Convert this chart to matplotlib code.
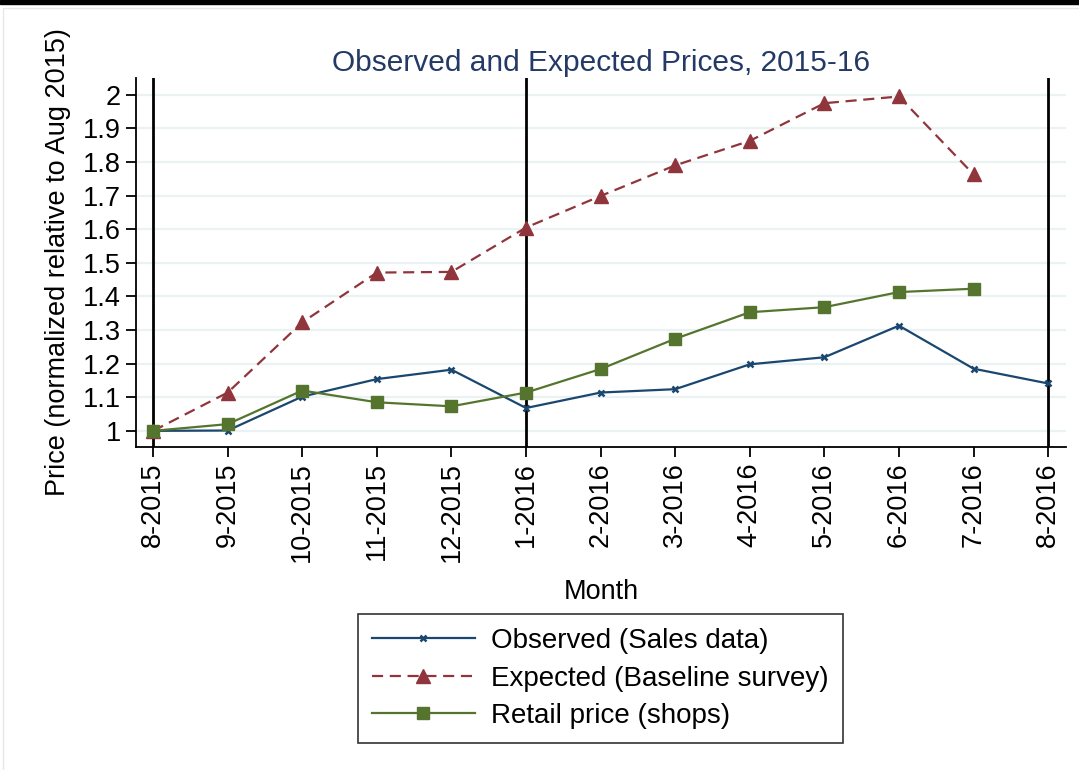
import matplotlib
matplotlib.use("Agg")
import matplotlib.pyplot as plt
from matplotlib.patches import Rectangle

plt.rcParams["font.family"] = ["Liberation Sans", "DejaVu Sans"]

months = ["8-2015", "9-2015", "10-2015", "11-2015", "12-2015", "1-2016", "2-2016",
          "3-2016", "4-2016", "5-2016", "6-2016", "7-2016", "8-2016"]
observed = [1.0, 1.001, 1.102, 1.154, 1.182, 1.068, 1.114, 1.124, 1.198, 1.219, 1.313, 1.185, 1.141]
expected = [1.0, 1.114, 1.323, 1.471, 1.473, 1.605, 1.699, 1.790, 1.863, 1.975, 1.995, 1.763]
retail = [1.0, 1.020, 1.120, 1.085, 1.073, 1.114, 1.184, 1.274, 1.353, 1.368, 1.413, 1.423]
vlines_at = ["8-2015", "1-2016", "8-2016"]
yticks = [1, 1.1, 1.2, 1.3, 1.4, 1.5, 1.6, 1.7, 1.8, 1.9, 2]
ytick_labels = ["1", "1.1", "1.2", "1.3", "1.4", "1.5", "1.6", "1.7", "1.8", "1.9", "2"]

BLUE = "#1a476f"
RED = "#90353b"
GREEN = "#55752f"
GRID = "#eaf2f3"
FS = 19.5

fig = plt.figure(figsize=(10.79, 7.70), dpi=100)
ax = fig.add_axes([0.126, 0.4195, 0.862, 0.4792])

x_obs = list(range(len(observed)))
x_exp = list(range(len(expected)))
x_ret = list(range(len(retail)))

for m in vlines_at:
    ax.axvline(months.index(m), color="black", lw=2, zorder=2)

ax.plot(x_obs, observed, color=BLUE, lw=1.6, marker="x", ms=5, mew=1.8,
        label="Observed (Sales data)", zorder=3)
ax.plot(x_exp, expected, color=RED, lw=1.6, ls=(0, (5, 3)), marker="^", ms=10,
        label="Expected (Baseline survey)", zorder=3)
ax.plot(x_ret, retail, color=GREEN, lw=1.6, marker="s", ms=8,
        label="Retail price (shops)", zorder=3)

ax.set_xlim(-0.23, 12.24)
ax.set_ylim(0.952, 2.05)
ax.set_xticks(range(len(months)))
ax.set_xticklabels(months, rotation=90, fontsize=FS)
ax.set_yticks(yticks)
ax.set_yticklabels(ytick_labels, fontsize=FS)
ax.yaxis.grid(True, color=GRID, lw=1.6)
ax.set_axisbelow(True)
for s in ["top", "right"]:
    ax.spines[s].set_visible(False)
for s in ["left", "bottom"]:
    ax.spines[s].set_linewidth(1.3)
ax.tick_params(axis="both", direction="out", length=7, width=1.3, pad=4)

ax.set_xlabel("Month", fontsize=FS, labelpad=12)
ax.set_ylabel("Price (normalized relative to Aug 2015)", fontsize=FS, labelpad=8)
ax.set_title("Observed and Expected Prices, 2015-16", fontsize=21.5, color="#243a66", pad=5)

leg = fig.legend(loc="center", bbox_to_anchor=(0.5565, 0.1188), fontsize=20,
                 frameon=True, fancybox=False, edgecolor="black", handlelength=3.7,
                 borderpad=0.5, labelspacing=0.42, handletextpad=0.6, borderaxespad=0)
leg.get_frame().set_linewidth(1.2)

# outer frame of the graph region
fig.patches.append(Rectangle((0, 0.995), 1, 0.005, transform=fig.transFigure,
                             color="black", zorder=0))
fig.patches.append(Rectangle((0.003, -0.1), 1.1, 1.09, transform=fig.transFigure,
                             fill=False, edgecolor="#e4e8ea", lw=1, zorder=0))

fig.savefig("out.png", dpi=100)
